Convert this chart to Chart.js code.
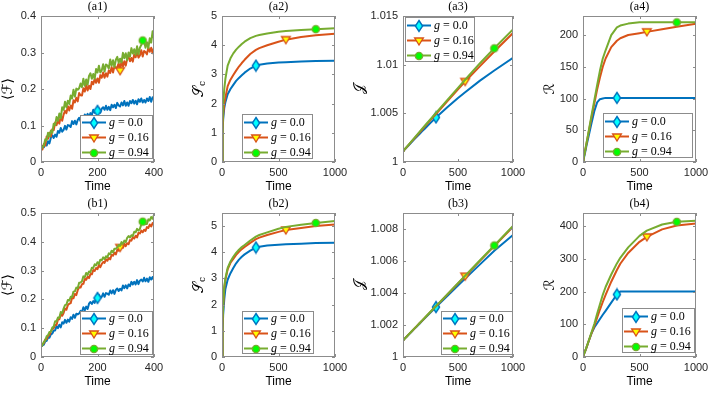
<!DOCTYPE html>
<html lang="en">
<head>
<meta charset="UTF-8">
<title>Time evolution panels</title>
<script src="https://cdn.jsdelivr.net/npm/chart.js@4.4.0/dist/chart.umd.min.js"></script>
<style>
    html, body { margin: 0; padding: 0; background: #fff; }
    #fig { position: relative; width: 714px; height: 395px; overflow: hidden; }
    #fig canvas { position: absolute; }
</style>
</head>
<body>
<div id="fig"></div>
<script>
// time axes
const tNoisy = [0, 5, 10, 15, 20, 25, 30, 35, 40, 45, 50, 55, 60, 65, 70, 75, 80, 85, 90, 95, 100,
    105, 110, 115, 120, 125, 130, 135, 140, 145, 150, 155, 160, 165, 170, 175, 180, 185, 190, 195, 200,
    205, 210, 215, 220, 225, 230, 235, 240, 245, 250, 255, 260, 265, 270, 275, 280, 285, 290, 295, 300,
    305, 310, 315, 320, 325, 330, 335, 340, 345, 350, 355, 360, 365, 370, 375, 380, 385, 390, 395, 400];
const tSmooth = [0, 5, 10, 20, 30, 50, 75, 100, 125, 150, 175, 200, 250, 300, 330, 400, 500, 565, 700, 830, 1000];

const gValues = ['0.0', '0.16', '0.94'];
const markNoisy = [200, 280, 360];   // where each curve carries its marker
const markSmooth = [300, 565, 830];

// (a1) <F>
const a1G0 = [0.035, 0.044, 0.040, 0.054, 0.045, 0.057, 0.051, 0.067, 0.073, 0.066, 0.075, 0.069, 0.085, 0.080, 0.093, 0.083, 0.088, 0.099, 0.089, 0.101, 0.100,
    0.096, 0.112, 0.104, 0.113, 0.103, 0.115, 0.121, 0.112, 0.120, 0.115, 0.130, 0.123, 0.132, 0.122, 0.134, 0.129, 0.143, 0.135, 0.142, 0.140,
    0.147, 0.135, 0.146, 0.150, 0.143, 0.154, 0.143, 0.151, 0.142, 0.157, 0.150, 0.157, 0.148, 0.162, 0.155, 0.152, 0.163, 0.155, 0.167, 0.154,
    0.163, 0.154, 0.167, 0.161, 0.170, 0.160, 0.168, 0.158, 0.172, 0.165, 0.174, 0.163, 0.170, 0.163, 0.174, 0.167, 0.178, 0.165, 0.177, 0.172];
const a1G16 = [0.035, 0.034, 0.049, 0.045, 0.070, 0.064, 0.080, 0.070, 0.090, 0.087, 0.108, 0.101, 0.114, 0.105, 0.127, 0.113, 0.130, 0.140, 0.134, 0.153, 0.141,
    0.155, 0.146, 0.169, 0.163, 0.176, 0.166, 0.189, 0.183, 0.182, 0.202, 0.193, 0.211, 0.196, 0.209, 0.200, 0.220, 0.213, 0.228, 0.217, 0.229,
    0.217, 0.238, 0.231, 0.245, 0.231, 0.243, 0.234, 0.251, 0.244, 0.260, 0.245, 0.262, 0.258, 0.260, 0.270, 0.250, 0.278, 0.262, 0.276, 0.264,
    0.283, 0.288, 0.276, 0.285, 0.275, 0.295, 0.287, 0.302, 0.286, 0.292, 0.306, 0.289, 0.304, 0.301, 0.295, 0.314, 0.302, 0.313, 0.298, 0.313];
const a1G94 = [0.035, 0.041, 0.045, 0.062, 0.060, 0.080, 0.070, 0.086, 0.080, 0.105, 0.101, 0.123, 0.113, 0.133, 0.120, 0.150, 0.143, 0.165, 0.150, 0.168, 0.159,
    0.182, 0.174, 0.198, 0.179, 0.201, 0.198, 0.202, 0.215, 0.205, 0.228, 0.209, 0.226, 0.212, 0.236, 0.243, 0.228, 0.241, 0.228, 0.255, 0.245,
    0.264, 0.245, 0.251, 0.268, 0.248, 0.267, 0.264, 0.256, 0.281, 0.264, 0.279, 0.260, 0.280, 0.288, 0.272, 0.283, 0.273, 0.299, 0.284, 0.298,
    0.279, 0.300, 0.289, 0.312, 0.297, 0.309, 0.294, 0.317, 0.295, 0.313, 0.321, 0.333, 0.331, 0.313, 0.328, 0.312, 0.339, 0.327, 0.358, 0.338];

// (a2) S_c
const a2G0 = [0, 1.0, 1.45, 1.85, 2.05, 2.32, 2.5, 2.64, 2.78, 2.88, 2.97, 3.06, 3.2, 3.3, 3.33, 3.37, 3.41, 3.42, 3.44, 3.46, 3.47];
const a2G16 = [0, 1.1, 1.6, 2.0, 2.2, 2.6, 2.82, 2.98, 3.13, 3.27, 3.39, 3.5, 3.7, 3.84, 3.9, 4.0, 4.12, 4.19, 4.28, 4.34, 4.39];
const a2G94 = [0, 1.3, 1.95, 2.5, 2.85, 3.3, 3.55, 3.72, 3.85, 3.95, 4.04, 4.12, 4.24, 4.32, 4.35, 4.4, 4.46, 4.49, 4.52, 4.55, 4.58];

// (a3) J
const a3G0 = [1.0011, 1.00116, 1.00122, 1.00134, 1.00146, 1.0017, 1.002, 1.0023, 1.00259, 1.00288, 1.00317, 1.00345, 1.00402, 1.00458, 1.00489, 1.00559, 1.00657, 1.00716, 1.00836, 1.0094, 1.0107];
const a3G16 = [1.0011, 1.00116, 1.00123, 1.00136, 1.00148, 1.00174, 1.00206, 1.00238, 1.0027, 1.00302, 1.00334, 1.00366, 1.0043, 1.00493, 1.00531, 1.0062, 1.00746, 1.00827, 1.00985, 1.01135, 1.01325];
const a3G94 = [1.0011, 1.00117, 1.00124, 1.00137, 1.0015, 1.00177, 1.0021, 1.00243, 1.00276, 1.00309, 1.00342, 1.00375, 1.0044, 1.00505, 1.00544, 1.00634, 1.00762, 1.00845, 1.01015, 1.01168, 1.01363];

// (a4) R
const a4G0 = [0, 4, 8, 16, 25, 41, 61, 80, 94, 99, 100, 101, 101, 101, 101, 101, 101, 101, 101, 101, 101];
const a4G16 = [0, 5, 10, 19, 28, 47, 70, 92, 114, 133, 150, 163, 181, 191, 195, 200, 203, 205, 209, 213, 218];
const a4G94 = [0, 5, 10, 19, 29, 48, 73, 97, 121, 144, 163, 176, 200, 212, 215, 218, 220, 220, 220, 220, 220];

// (b1) <F>
const b1G0 = [0.035, 0.040, 0.043, 0.054, 0.056, 0.068, 0.067, 0.079, 0.081, 0.092, 0.092, 0.107, 0.100, 0.112, 0.103, 0.121, 0.116, 0.129, 0.119, 0.130, 0.123,
    0.138, 0.132, 0.147, 0.136, 0.150, 0.148, 0.151, 0.160, 0.156, 0.173, 0.162, 0.175, 0.167, 0.185, 0.191, 0.184, 0.194, 0.188, 0.206, 0.205,
    0.216, 0.205, 0.209, 0.221, 0.209, 0.222, 0.220, 0.216, 0.231, 0.221, 0.232, 0.219, 0.233, 0.238, 0.229, 0.237, 0.231, 0.248, 0.239, 0.249,
    0.238, 0.252, 0.246, 0.261, 0.252, 0.261, 0.252, 0.267, 0.253, 0.265, 0.269, 0.262, 0.275, 0.263, 0.272, 0.261, 0.277, 0.269, 0.278, 0.267];
const b1G16 = [0.035, 0.044, 0.048, 0.061, 0.062, 0.073, 0.076, 0.089, 0.098, 0.100, 0.111, 0.111, 0.130, 0.131, 0.147, 0.143, 0.153, 0.168, 0.164, 0.180, 0.185,
    0.187, 0.206, 0.204, 0.219, 0.215, 0.232, 0.242, 0.241, 0.253, 0.254, 0.271, 0.268, 0.279, 0.274, 0.288, 0.287, 0.302, 0.299, 0.309, 0.305,
    0.320, 0.312, 0.323, 0.330, 0.327, 0.340, 0.334, 0.344, 0.339, 0.355, 0.352, 0.362, 0.356, 0.372, 0.369, 0.380, 0.384, 0.379, 0.393, 0.385,
    0.395, 0.392, 0.406, 0.404, 0.416, 0.411, 0.421, 0.415, 0.431, 0.429, 0.439, 0.433, 0.442, 0.438, 0.451, 0.448, 0.460, 0.453, 0.465, 0.465];
const b1G94 = [0.035, 0.041, 0.052, 0.057, 0.072, 0.076, 0.087, 0.088, 0.102, 0.106, 0.124, 0.124, 0.137, 0.136, 0.156, 0.152, 0.168, 0.180, 0.182, 0.198, 0.196,
    0.209, 0.208, 0.227, 0.228, 0.241, 0.239, 0.258, 0.259, 0.263, 0.280, 0.277, 0.292, 0.285, 0.297, 0.295, 0.310, 0.309, 0.322, 0.318, 0.329,
    0.323, 0.338, 0.336, 0.346, 0.340, 0.350, 0.346, 0.360, 0.357, 0.369, 0.363, 0.376, 0.376, 0.380, 0.389, 0.386, 0.399, 0.393, 0.404, 0.399,
    0.414, 0.420, 0.415, 0.423, 0.420, 0.435, 0.433, 0.445, 0.439, 0.445, 0.460, 0.470, 0.466, 0.462, 0.462, 0.478, 0.474, 0.486, 0.480, 0.494];

// (b2) S_c
const b2G0 = [0, 1.0, 1.6, 2.2, 2.6, 2.95, 3.2, 3.4, 3.58, 3.72, 3.83, 3.92, 4.06, 4.18, 4.21, 4.26, 4.29, 4.31, 4.33, 4.35, 4.36];
const b2G16 = [0, 1.2, 1.9, 2.6, 2.95, 3.35, 3.6, 3.75, 3.9, 4.02, 4.12, 4.2, 4.36, 4.5, 4.56, 4.66, 4.78, 4.85, 4.93, 5.0, 5.06];
const b2G94 = [0, 1.3, 2.0, 2.7, 3.0, 3.4, 3.65, 3.83, 3.98, 4.1, 4.2, 4.28, 4.45, 4.6, 4.66, 4.76, 4.9, 4.97, 5.05, 5.12, 5.19];

// (b3) J
const b3G0 = [1.00104, 1.00108, 1.00111, 1.00118, 1.00125, 1.00139, 1.00156, 1.00174, 1.00191, 1.00208, 1.00226, 1.00243, 1.00278, 1.00312, 1.00332, 1.0038, 1.00447, 1.0049, 1.00579, 1.00664, 1.00763];
const b3G16 = [1.00104, 1.00108, 1.00111, 1.00118, 1.00125, 1.0014, 1.00157, 1.00175, 1.00193, 1.00211, 1.00228, 1.00246, 1.00282, 1.00317, 1.00338, 1.00388, 1.00459, 1.00505, 1.00601, 1.00693, 1.00814];
const b3G94 = [1.00104, 1.00108, 1.00111, 1.00118, 1.00125, 1.0014, 1.00158, 1.00176, 1.00193, 1.00211, 1.00229, 1.00247, 1.00283, 1.00319, 1.0034, 1.0039, 1.00462, 1.00508, 1.00605, 1.00697, 1.00819];

// (b4) R
const b4G0 = [0, 5, 10, 19, 28, 48, 72, 90, 103, 116, 129, 141, 166, 191, 200, 200, 200, 200, 200, 200, 200];
const b4G16 = [0, 5, 10, 19, 28, 48, 72, 95, 120, 145, 168, 190, 230, 266, 285, 318, 352, 367, 390, 402, 408];
const b4G94 = [0, 5, 10, 19, 29, 49, 75, 101, 132, 161, 190, 214, 252, 286, 303, 335, 370, 386, 405, 413, 416];

// tick values
const ticksTime400 = [0, 200, 400];
const ticksTime1000 = [0, 500, 1000];
const ticksA1 = [0, 0.1, 0.2, 0.3, 0.4];
const ticksA2 = [0, 1, 2, 3, 4, 5];
const ticksA3 = [1, 1.005, 1.01, 1.015];
const ticksA4 = [0, 50, 100, 150, 200];
const ticksB1 = [0, 0.1, 0.2, 0.3, 0.4, 0.5];
const ticksB2 = [0, 1, 2, 3, 4, 5];
const ticksB3 = [1, 1.002, 1.004, 1.006, 1.008];
const ticksB4 = [0, 100, 200, 300, 400];

const colors = ['#0072bd', '#d95319', '#77ac30'];
const faces = ['#00ffff', '#ffff00', '#00ff00'];

// plot boxes in page pixels, legend box relative to the plot box
const panels = [
    { title: '(a1)', x: 41, y: 16, w: 113, h: 146, t: tNoisy, marks: markNoisy, series: [a1G0, a1G16, a1G94],
      xmax: 400, xticks: ticksTime400, ymin: 0, ymax: 0.4, yticks: ticksA1, ylab: '⟨ℱ⟩', sub: '', ylabOff: 33, leg: [39, 99, 73, 44] },
    { title: '(a2)', x: 222, y: 16, w: 113, h: 146, t: tSmooth, marks: markSmooth, series: [a2G0, a2G16, a2G94],
      xmax: 1000, xticks: ticksTime1000, ymin: 0, ymax: 5, yticks: ticksA2, ylab: '𝒮', sub: 'c', ylabOff: 23, leg: [20, 98, 71, 45] },
    { title: '(a3)', x: 403, y: 16, w: 110, h: 146, t: tSmooth, marks: markSmooth, series: [a3G0, a3G16, a3G94],
      xmax: 1000, xticks: ticksTime1000, ymin: 1, ymax: 1.015, yticks: ticksA3, ylab: '𝒥', sub: '', ylabOff: 43, leg: [2, 1, 70, 45] },
    { title: '(a4)', x: 583, y: 16, w: 113, h: 146, t: tSmooth, marks: markSmooth, series: [a4G0, a4G16, a4G94],
      xmax: 1000, xticks: ticksTime1000, ymin: 0, ymax: 230, yticks: ticksA4, ylab: 'ℛ', sub: '', ylabOff: 33, leg: [20, 97, 90, 45] },
    { title: '(b1)', x: 41, y: 213, w: 113, h: 144, t: tNoisy, marks: markNoisy, series: [b1G0, b1G16, b1G94],
      xmax: 400, xticks: ticksTime400, ymin: 0, ymax: 0.5, yticks: ticksB1, ylab: '⟨ℱ⟩', sub: '', ylabOff: 33, leg: [39, 98, 73, 44] },
    { title: '(b2)', x: 222, y: 213, w: 113, h: 144, t: tSmooth, marks: markSmooth, series: [b2G0, b2G16, b2G94],
      xmax: 1000, xticks: ticksTime1000, ymin: 0, ymax: 5.5, yticks: ticksB2, ylab: '𝒮', sub: 'c', ylabOff: 23, leg: [20, 98, 72, 43] },
    { title: '(b3)', x: 403, y: 213, w: 110, h: 144, t: tSmooth, marks: markSmooth, series: [b3G0, b3G16, b3G94],
      xmax: 1000, xticks: ticksTime1000, ymin: 1, ymax: 1.009, yticks: ticksB3, ylab: '𝒥', sub: '', ylabOff: 43, leg: [38, 98, 72, 44] },
    { title: '(b4)', x: 583, y: 213, w: 113, h: 144, t: tSmooth, marks: markSmooth, series: [b4G0, b4G16, b4G94],
      xmax: 1000, xticks: ticksTime1000, ymin: 0, ymax: 440, yticks: ticksB4, ylab: 'ℛ', sub: '', ylabOff: 33, leg: [39, 95, 73, 45] }
];

const PAD_L = 52, PAD_T = 18, PAD_R = 16, PAD_B = 36;
const tickFont = { family: '"Liberation Sans", Arial, sans-serif', size: 11 };

// small MATLAB-like marker images: diamond, down triangle, circle
function markerImage(i) {
    const c = document.createElement('canvas');
    c.width = 12; c.height = 14;
    const g = c.getContext('2d');
    const x = 6, y = 7;
    g.beginPath();
    if (i === 0) {
        g.moveTo(x, y - 5.5); g.lineTo(x + 3.6, y); g.lineTo(x, y + 5.5); g.lineTo(x - 3.6, y);
    } else if (i === 1) {
        g.moveTo(x, y + 4); g.lineTo(x - 4.3, y - 3); g.lineTo(x + 4.3, y - 3);
    } else {
        g.arc(x, y, 3.6, 0, Math.PI * 2);
    }
    g.closePath();
    g.fillStyle = faces[i];
    g.fill();
    g.lineWidth = 1.4;
    g.strokeStyle = colors[i];
    g.stroke();
    return c;
}
const markers = [0, 1, 2].map(markerImage);

// box, inward ticks, legend and the text around each panel
function makeDeco(p) {
    return {
        id: 'deco',
        afterDatasetsDraw(chart) {
            const ctx = chart.ctx, a = chart.chartArea;
            const sx = chart.scales.x, sy = chart.scales.y;
            ctx.save();
            ctx.strokeStyle = '#8c8c8c';
            ctx.lineWidth = 1;
            ctx.beginPath();
            sx.ticks.forEach(tk => {
                const px = Math.round(sx.getPixelForValue(tk.value)) + 0.5;
                ctx.moveTo(px, a.bottom); ctx.lineTo(px, a.bottom - 3);
                ctx.moveTo(px, a.top); ctx.lineTo(px, a.top + 3);
            });
            sy.ticks.forEach(tk => {
                const py = Math.round(sy.getPixelForValue(tk.value)) + 0.5;
                ctx.moveTo(a.left, py); ctx.lineTo(a.left + 3, py);
                ctx.moveTo(a.right, py); ctx.lineTo(a.right - 3, py);
            });
            ctx.stroke();
            ctx.strokeRect(a.left + 0.5, a.top + 0.5, a.right - a.left - 1, a.bottom - a.top - 1);

            // legend
            const [lx, ly, lw, lh] = p.leg;
            const bx = a.left + lx, by = a.top + ly;
            ctx.fillStyle = '#fff';
            ctx.fillRect(bx, by, lw, lh);
            ctx.strokeStyle = '#8c8c8c';
            ctx.strokeRect(bx + 0.5, by + 0.5, lw - 1, lh - 1);
            chart.data.datasets.forEach((ds, i) => {
                const ry = Math.round(by + lh / 2 + (i - 1) * 15) + 0.5;
                ctx.strokeStyle = ds.borderColor;
                ctx.lineWidth = 2;
                ctx.beginPath();
                ctx.moveTo(bx + 2, ry); ctx.lineTo(bx + 26, ry);
                ctx.stroke();
                const m = markers[i];
                ctx.drawImage(m, Math.round(bx + 14 - m.width / 2), Math.round(ry - m.height / 2));
                ctx.fillStyle = '#000';
                ctx.textAlign = 'left';
                ctx.textBaseline = 'middle';
                ctx.font = 'italic 12px "Liberation Serif"';
                ctx.fillText('g', bx + 29, ry);
                const gw = ctx.measureText('g').width;
                ctx.font = '12px "Liberation Serif"';
                ctx.fillText(' = ' + gValues[i], bx + 29 + gw, ry);
            });

            // title and x label
            const cx = (a.left + a.right) / 2;
            ctx.fillStyle = '#000';
            ctx.textAlign = 'center';
            ctx.textBaseline = 'middle';
            ctx.font = '12px "Liberation Serif"';
            ctx.fillText(p.title, cx, a.top - 9);
            ctx.font = '12px "Liberation Sans"';
            ctx.fillText('Time', cx, a.bottom + 25);

            // y label, rotated, with optional subscript
            ctx.translate(a.left - p.ylabOff, (a.top + a.bottom) / 2);
            ctx.rotate(-Math.PI / 2);
            ctx.textAlign = 'left';
            ctx.font = '14px "DejaVu Serif", "DejaVu Sans", serif';
            const mw = ctx.measureText(p.ylab).width;
            let sw = 0;
            if (p.sub) {
                ctx.font = '9px "DejaVu Serif"';
                sw = ctx.measureText(p.sub).width;
            }
            const x0 = -(mw + sw) / 2;
            ctx.font = '14px "DejaVu Serif", "DejaVu Sans", serif';
            ctx.fillText(p.ylab, x0, 0);
            if (p.sub) {
                ctx.font = '9px "DejaVu Serif"';
                ctx.fillText(p.sub, x0 + mw, 4);
            }
            ctx.restore();
        }
    };
}

const fig = document.getElementById('fig');

panels.forEach(p => {
    const cv = document.createElement('canvas');
    cv.width = p.w + PAD_L + PAD_R;
    cv.height = p.h + PAD_T + PAD_B;
    cv.style.left = (p.x - PAD_L) + 'px';
    cv.style.top = (p.y - PAD_T) + 'px';
    fig.appendChild(cv);

    const datasets = p.series.map((vals, i) => {
        const mIdx = p.t.indexOf(p.marks[i]);
        return {
            label: 'g = ' + gValues[i],
            data: p.t.map((t, k) => ({ x: t, y: vals[k] })),
            borderColor: colors[i],
            borderWidth: 2,
            borderJoinStyle: 'round',
            tension: 0,
            fill: false,
            pointStyle: markers[i],
            pointRadius: c => c.dataIndex === mIdx ? 5 : 0,
            order: 2 - i
        };
    });

    new Chart(cv.getContext('2d'), {
        type: 'line',
        data: { datasets },
        options: {
            responsive: false,
            animation: false,
            events: [],
            layout: { padding: { left: 0, right: PAD_R, top: PAD_T, bottom: 0 } },
            plugins: { legend: { display: false }, tooltip: { enabled: false } },
            scales: {
                x: {
                    type: 'linear', min: 0, max: p.xmax,
                    grid: { display: false, drawTicks: false },
                    border: { display: false },
                    afterBuildTicks: s => { s.ticks = p.xticks.map(v => ({ value: v })); },
                    afterFit: s => { s.height = PAD_B; s.paddingLeft = 0; s.paddingRight = 0; },
                    ticks: { padding: 4, autoSkip: false, maxRotation: 0, color: '#262626', font: tickFont,
                             callback: v => String(+Number(v).toFixed(4)) }
                },
                y: {
                    type: 'linear', min: p.ymin, max: p.ymax,
                    grid: { display: false, drawTicks: false },
                    border: { display: false },
                    afterBuildTicks: s => { s.ticks = p.yticks.map(v => ({ value: v })); },
                    afterFit: s => { s.width = PAD_L; s.paddingTop = 0; s.paddingBottom = 0; },
                    ticks: { padding: 5, autoSkip: false, color: '#262626', font: tickFont,
                             callback: v => String(+Number(v).toFixed(4)) }
                }
            }
        },
        plugins: [makeDeco(p)]
    });
});
</script>
</body>
</html>
